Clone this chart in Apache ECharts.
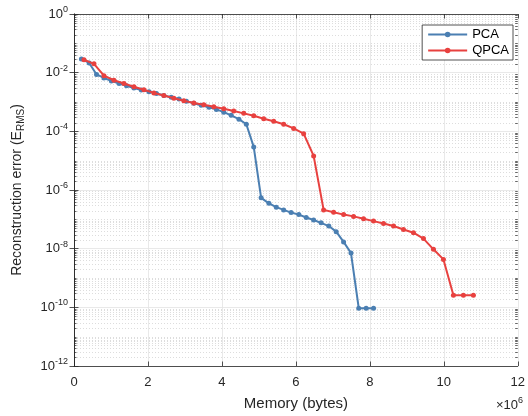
<!DOCTYPE html>
<html>
<head>
<meta charset="utf-8">
<script src="https://cdn.jsdelivr.net/npm/echarts@6/dist/echarts.min.js"></script>
<style>
  html, body { margin: 0; padding: 0; background: #ffffff; }
  #chart { width: 528px; height: 416px; }
</style>
</head>
<body>
<div id="chart"></div>
<script>
// Memory footprint (in units of 10^6 bytes) and RMS reconstruction error
const memoryPCA = [0.20, 0.41, 0.61, 0.81, 1.01, 1.22, 1.42, 1.62, 1.82, 2.03,
                   2.23, 2.43, 2.63, 2.84, 3.04, 3.24, 3.44, 3.65, 3.85, 4.05,
                   4.25, 4.46, 4.66, 4.86, 5.06, 5.27, 5.47, 5.67, 5.87, 6.08,
                   6.28, 6.48, 6.68, 6.89, 7.09, 7.29, 7.49, 7.70, 7.90, 8.10];
const errorPCA = [2.95e-2, 2.14e-2, 8.7e-3, 6.6e-3, 5.25e-3, 4.27e-3, 3.55e-3, 3.02e-3, 2.57e-3, 2.24e-3,
                  1.95e-3, 1.66e-3, 1.45e-3, 1.26e-3, 1.07e-3, 9.1e-4, 7.8e-4, 6.6e-4, 5.6e-4, 4.5e-4,
                  3.5e-4, 2.6e-4, 1.74e-4, 2.95e-5, 5.4e-7, 3.5e-7, 2.6e-7, 2.1e-7, 1.7e-7, 1.45e-7,
                  1.15e-7, 9.5e-8, 7.6e-8, 5.9e-8, 3.8e-8, 1.7e-8, 7.1e-9, 9.3e-11, 9.3e-11, 9.3e-11];

const memoryQPCA = [0.27, 0.54, 0.81, 1.08, 1.35, 1.62, 1.89, 2.16, 2.43, 2.70,
                    2.97, 3.24, 3.51, 3.78, 4.05, 4.32, 4.59, 4.86, 5.13, 5.40,
                    5.67, 5.94, 6.21, 6.48, 6.75, 7.02, 7.29, 7.56, 7.83, 8.10,
                    8.37, 8.64, 8.91, 9.18, 9.45, 9.72, 9.99, 10.26, 10.53, 10.80];
const errorQPCA = [2.75e-2, 2.0e-2, 7.9e-3, 5.5e-3, 4.27e-3, 3.3e-3, 2.63e-3, 2.04e-3, 1.66e-3, 1.35e-3,
                   1.10e-3, 9.3e-4, 8.1e-4, 6.9e-4, 5.9e-4, 4.9e-4, 4.1e-4, 3.4e-4, 2.7e-4, 2.2e-4,
                   1.74e-4, 1.26e-4, 8.3e-5, 1.45e-5, 2.1e-7, 1.74e-7, 1.45e-7, 1.26e-7, 1.05e-7, 8.7e-8,
                   7.2e-8, 5.9e-8, 4.5e-8, 3.5e-8, 2.2e-8, 9.5e-9, 4.3e-9, 2.6e-10, 2.6e-10, 2.6e-10];

// Axis ranges / tick steps
const xRange = [0, 12];
const xStep = 2;
const yRange = [1e-12, 1];
const yDecadeStep = 2;

const seriesNames = ['PCA', 'QPCA'];
const seriesColors = ['#4b7fb2', '#e8413f'];

const FONT = '"Liberation Sans", Arial, Helvetica, sans-serif';
const INK = '#262626';

// Log-scale minor grid values: every m*10^d, plus the odd decades
const minorValues = [];
for (let d = -12; d < 0; d++) {
  for (let m = 1; m <= 9; m++) {
    if (m === 1 && d % 2 === 0) continue;
    minorValues.push([0, m * Math.pow(10, d)]);
  }
}

function toPairs(xs, ys) { return xs.map((x, i) => [x, ys[i]]); }

function renderMinor(params, api) {
  const cs = params.coordSys;
  const y = Math.round(api.coord([0, api.value(1)])[1]) + 0.5;
  const x0 = cs.x, x1 = cs.x + cs.width;
  return {
    type: 'group',
    children: [
      { type: 'line', shape: { x1: x0, y1: y, x2: x1, y2: y },
        style: { stroke: '#cfcfcf', lineWidth: 0.7, lineDash: [1, 2] } },
      { type: 'line', shape: { x1: x0, y1: y, x2: x0 + 2.5, y2: y },
        style: { stroke: INK, lineWidth: 0.7 } },
      { type: 'line', shape: { x1: x1 - 2.5, y1: y, x2: x1, y2: y },
        style: { stroke: INK, lineWidth: 0.7 } }
    ]
  };
}

const chart = echarts.init(document.getElementById('chart'), null, { renderer: 'canvas' });

const axisLineStyle = { show: true, lineStyle: { color: INK, width: 0.8 } };
const tickStyle = { show: true, inside: true, length: 4.5, lineStyle: { color: INK, width: 0.8 } };
const majorGrid = { show: true, lineStyle: { color: '#e3e3e3', width: 0.8 } };

chart.setOption({
  animation: false,
  backgroundColor: '#ffffff',
  grid: { left: 74, right: 5, top: 14, bottom: 48, containLabel: false },
  textStyle: { fontFamily: FONT },
  legend: {
    data: seriesNames,
    orient: 'vertical',
    right: 15,
    top: 25,
    padding: [3, 4, 3, 5],
    itemGap: 3,
    itemWidth: 39,
    itemHeight: 7,
    borderColor: INK,
    borderWidth: 0.8,
    backgroundColor: '#ffffff',
    textStyle: { color: '#000', fontSize: 13, fontFamily: FONT }
  },
  xAxis: [
    {
      type: 'value', min: xRange[0], max: xRange[1], interval: xStep,
      name: 'Memory (bytes)', nameLocation: 'middle', nameGap: 30,
      nameTextStyle: { color: INK, fontSize: 15, fontFamily: FONT },
      axisLine: axisLineStyle, axisTick: tickStyle,
      axisLabel: { color: INK, fontSize: 13, margin: 10, fontFamily: FONT },
      splitLine: majorGrid
    },
    {
      type: 'value', min: xRange[0], max: xRange[1], interval: xStep, position: 'top',
      axisLine: axisLineStyle, axisTick: tickStyle, axisLabel: { show: false }, splitLine: { show: false }
    }
  ],
  yAxis: [
    {
      type: 'log', logBase: 10, min: yRange[0], max: yRange[1], interval: yDecadeStep,
      name: 'Reconstruction error (E{sub|RMS})', nameLocation: 'middle', nameGap: 48,
      nameTextStyle: {
        color: INK, fontSize: 14, fontFamily: FONT,
        rich: { sub: { fontSize: 10, color: INK, fontFamily: FONT, padding: [8, 0, 0, 0] } }
      },
      axisLine: axisLineStyle, axisTick: tickStyle,
      axisLabel: {
        color: INK, margin: 6, fontFamily: FONT,
        formatter: function (v) {
          const e = Math.round(Math.log10(v));
          return '{b|10}{s|' + e + '}';
        },
        rich: {
          b: { fontSize: 13, color: INK, fontFamily: FONT },
          s: { fontSize: 9, color: INK, fontFamily: FONT, padding: [0, 0, 9, 0] }
        }
      },
      splitLine: majorGrid
    },
    {
      type: 'log', logBase: 10, min: yRange[0], max: yRange[1], interval: yDecadeStep, position: 'right',
      axisLine: axisLineStyle, axisTick: tickStyle, axisLabel: { show: false }, splitLine: { show: false }
    }
  ],
  graphic: [{
    type: 'text', right: 5, bottom: 4,
    style: {
      text: '×10{s|6}', fill: INK, font: '13px ' + FONT,
      rich: { s: { fontSize: 9, fill: INK, padding: [0, 0, 9, 0] } }
    }
  }],
  series: [
    {
      type: 'custom', name: 'minor', silent: true, z: 0,
      renderItem: renderMinor, data: minorValues,
      xAxisIndex: 0, yAxisIndex: 0, encode: { x: 0, y: 1 }
    },
    {
      name: seriesNames[0], type: 'line', data: toPairs(memoryPCA, errorPCA),
      color: seriesColors[0], symbol: 'circle', symbolSize: 5, showSymbol: true,
      lineStyle: { width: 2 }, itemStyle: { color: seriesColors[0] }, z: 3
    },
    {
      name: seriesNames[1], type: 'line', data: toPairs(memoryQPCA, errorQPCA),
      color: seriesColors[1], symbol: 'circle', symbolSize: 5, showSymbol: true,
      lineStyle: { width: 2 }, itemStyle: { color: seriesColors[1] }, z: 4
    }
  ]
});
</script>
</body>
</html>
